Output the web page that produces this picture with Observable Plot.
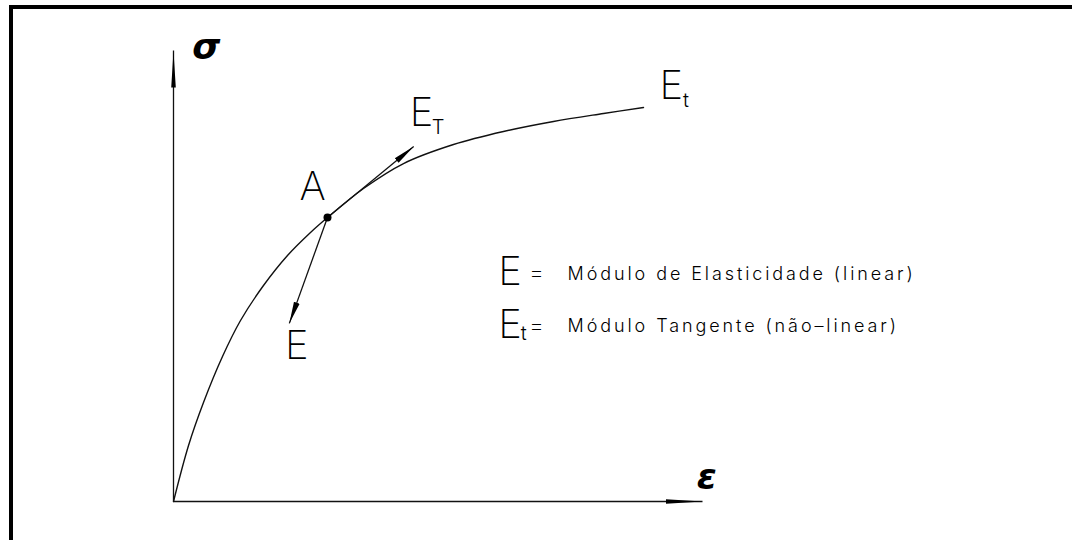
<!DOCTYPE html>
<html>
<head>
<meta charset="utf-8">
<script src="https://cdn.jsdelivr.net/npm/d3@7"></script>
<script src="https://cdn.jsdelivr.net/npm/@observablehq/plot@0.6"></script>
<style>
  body { margin: 0; background: #fff; }
  #wrap { position: relative; width: 1072px; height: 540px; overflow: hidden; background: #fff; }
  #chart { position: absolute; left: 0; top: 0; }
  #frame { position: absolute; left: 9px; top: 5px; width: 1100px; height: 600px;
           border-top: 4px solid #000; border-left: 4px solid #000; pointer-events: none; }
</style>
</head>
<body>
<div id="wrap"><div id="chart"></div><div id="frame"></div></div>
<script>
// stress–strain curve (ε, σ) in chart units
const strain = [0, 0.284, 0.567, 0.926, 1.267, 1.701, 2.155, 2.590, 2.911, 3.592, 4.348, 5.293, 6.238, 7.183, 8.129, 8.885];
const stress = [0, 1.242, 2.195, 3.215, 4.013, 4.789, 5.455, 5.965, 6.297, 6.940, 7.494, 7.916, 8.204, 8.426, 8.603, 8.736];

// point A on the curve
const pointA = {x: 2.911, y: 6.297};

// axes (origin -> arrow tip)
const axisEndX = [10, 0];
const axisEndY = [0, 10];
const axisNames = ["σ", "ε"];
const axisNameX = [0.62, 10.08];
const axisNameY = [10.07, 0.53];

// tangent / secant arrows from A
const arrowTipX = [4.54, 2.19];
const arrowTipY = [7.87, 3.95];

// big CAD-style letters
const bigLetters = ["A", "E", "E", "E", "E", "E"];
const bigX = [2.63, 2.33, 4.69, 9.41, 6.36, 6.36];
const bigY = [6.96, 3.44, 8.60, 9.20, 5.08, 3.90];

// subscripts
const subLetters = ["T", "t", "t"];
const subX = [5.00, 9.69, 6.62];
const subY = [8.28, 8.89, 3.73];

// legend lines
const legendEq = ["=", "="];
const legendEqX = [6.86, 6.86];
const legendText = ["Módulo de Elasticidade (linear)", "Módulo Tangente (não–linear)"];
const legendX = [7.45, 7.45];
const legendY = [5.05, 3.88];

const curve = strain.map((x, i) => ({x, y: stress[i]}));
const axes = axisEndX.map((x, i) => ({x1: 0, y1: 0, x2: x, y2: axisEndY[i]}));
const arrows = arrowTipX.map((x, i) => ({x1: pointA.x, y1: pointA.y, x2: x, y2: arrowTipY[i]}));
const names = axisNames.map((t, i) => ({t, x: axisNameX[i], y: axisNameY[i]}));
const bigs = bigLetters.map((t, i) => ({t, x: bigX[i], y: bigY[i]}));
const subs = subLetters.map((t, i) => ({t, x: subX[i], y: subY[i]}));
const eqs = legendEq.map((t, i) => ({t, x: legendEqX[i], y: legendY[i]}));
const legends = legendText.map((t, i) => ({t, x: legendX[i], y: legendY[i]}));

const cad = "Inter, 'DejaVu Sans', sans-serif";

const chart = Plot.plot({
  width: 1072,
  height: 540,
  marginLeft: 173,
  marginRight: 370,
  marginTop: 50,
  marginBottom: 39,
  x: {domain: [0, 10], axis: null},
  y: {domain: [0, 10], axis: null},
  style: {background: "transparent"},
  marks: [
    Plot.link(axes, {x1: "x1", y1: "y1", x2: "x2", y2: "y2", stroke: "#111", strokeWidth: 1.3}),
    Plot.line(curve, {x: "x", y: "y", curve: "catmull-rom", stroke: "#111", strokeWidth: 1.4}),
    Plot.link(arrows, {x1: "x1", y1: "y1", x2: "x2", y2: "y2", stroke: "#111", strokeWidth: 1.3}),
    Plot.dot([pointA], {x: "x", y: "y", r: 4, fill: "#000", stroke: "none"}),
    Plot.text(names, {x: "x", y: "y", text: "t", fontSize: 36, fontWeight: "bold", fontStyle: "italic", fontFamily: "'DejaVu Sans', sans-serif", fill: "#000"}),
    Plot.text(bigs, {x: "x", y: "y", text: "t", fontSize: 40, fontWeight: 200, fontFamily: cad, fill: "#000"}),
    Plot.text(subs, {x: "x", y: "y", text: "t", fontSize: 20, fontWeight: 300, fontFamily: cad, fill: "#000"}),
    Plot.text(eqs, {x: "x", y: "y", text: "t", fontSize: 24, fontWeight: 200, fontFamily: cad, fill: "#000"}),
    Plot.text(legends, {x: "x", y: "y", text: "t", textAnchor: "start", fontSize: 18, fontWeight: 350, fontFamily: cad, fill: "#000"})
  ]
});
document.getElementById("chart").appendChild(chart);

// filled arrowheads
const svg = d3.select(chart);
const groups = svg.selectAll(":scope > g").nodes();
const defs = svg.insert("defs", ":first-child");
function marker(id, len, hw) {
  defs.append("marker")
    .attr("id", id)
    .attr("markerUnits", "userSpaceOnUse")
    .attr("viewBox", `0 ${-hw - 1} ${len + 2} ${2 * hw + 2}`)
    .attr("markerWidth", len + 2)
    .attr("markerHeight", 2 * hw + 2)
    .attr("refX", len)
    .attr("refY", 0)
    .attr("orient", "auto")
    .append("path")
    .attr("d", `M0,${-hw}L${len},0L0,${hw}Z`)
    .attr("fill", "#000");
}
marker("ahBig", 37, 2.3);
marker("ahSmall", 22, 3);
d3.select(groups[0]).selectAll("path").attr("marker-end", "url(#ahBig)");
d3.select(groups[2]).selectAll("path").attr("marker-end", "url(#ahSmall)");
d3.select(groups[8]).style("letter-spacing", "2.9px");
</script>
</body>
</html>
